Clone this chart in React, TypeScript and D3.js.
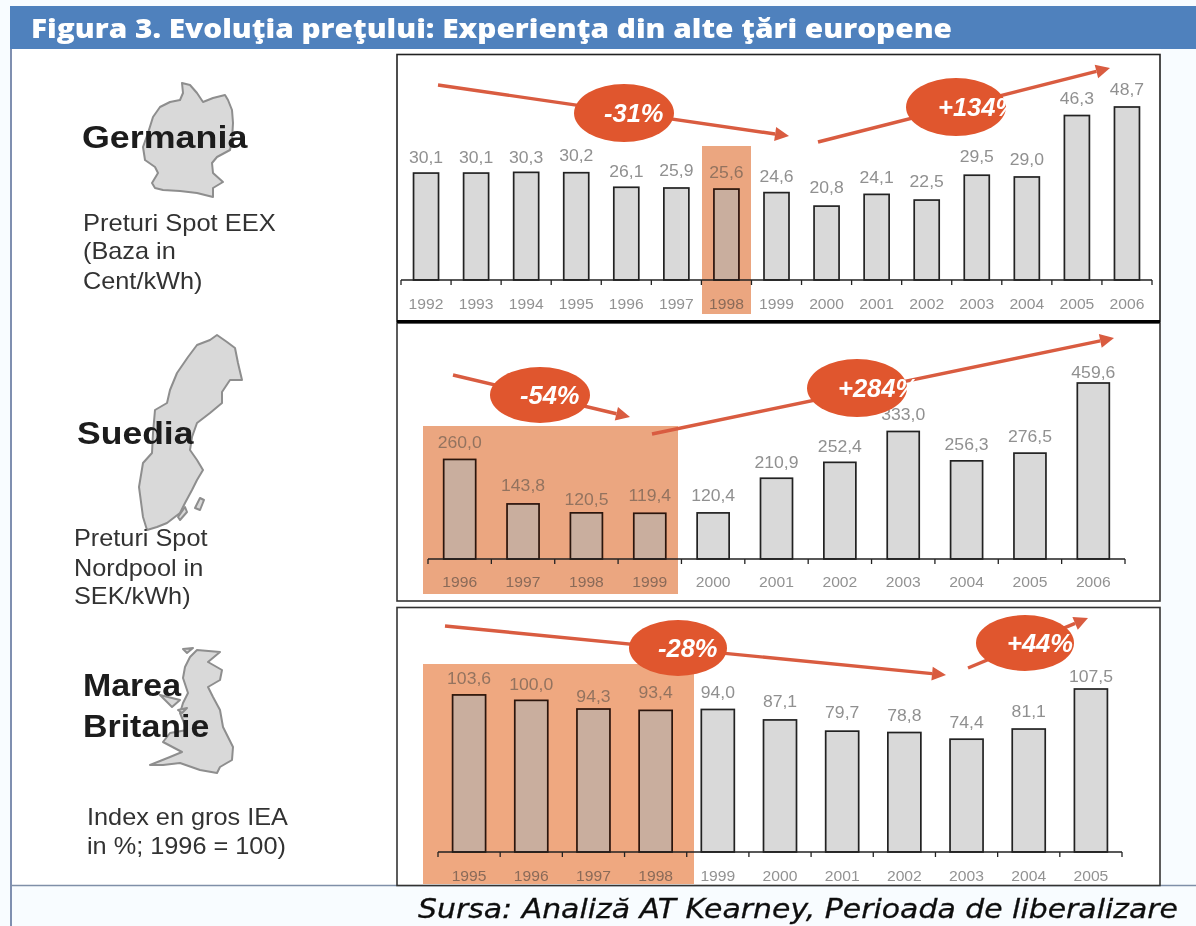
import React from "react";
import * as d3 from "d3";

const yearsDE = ["1992","1993","1994","1995","1996","1997","1998","1999","2000","2001","2002","2003","2004","2005","2006"];
const valuesDE = [30.1,30.1,30.3,30.2,26.1,25.9,25.6,24.6,20.8,24.1,22.5,29.5,29.0,46.3,48.7];
const labelsDE = ["30,1","30,1","30,3","30,2","26,1","25,9","25,6","24,6","20,8","24,1","22,5","29,5","29,0","46,3","48,7"];

const yearsSE = ["1996","1997","1998","1999","2000","2001","2002","2003","2004","2005","2006"];
const valuesSE = [260.0,143.8,120.5,119.4,120.4,210.9,252.4,333.0,256.3,276.5,459.6];
const labelsSE = ["260,0","143,8","120,5","119,4","120,4","210,9","252,4","333,0","256,3","276,5","459,6"];

const yearsUK = ["1995","1996","1997","1998","1999","2000","2001","2002","2003","2004","2005"];
const valuesUK = [103.6,100.0,94.3,93.4,94.0,87.1,79.7,78.8,74.4,81.1,107.5];
const labelsUK = ["103,6","100,0","94,3","93,4","94,0","87,1","79,7","78,8","74,4","81,1","107,5"];

const hlDE = ["1998"];
const hlSE = ["1996","1997","1998","1999"];
const hlUK = ["1995","1996","1997","1998"];

const GERMANY = "M182 83L190 85L197 93L203 102L213 98L225 95L228 100L232 110L233 123L232 140L230 150L217 157L212 163L213 173L223 182L213 188L213 197L197 193L180 191L163 190L155 188L152 183L158 173L155 167L145 160L143 147L148 133L153 117L160 107L170 102L180 100L183 93Z";
const SWEDEN = ["M217 335L227 342L235 348L238 363L242 380L230 380L222 392L222 403L210 413L197 423L192 437L190 450L197 460L203 470L197 480L192 490L185 503L180 513L167 523L157 527L147 530L143 517L139 487L143 463L152 453L153 433L155 410L167 403L170 390L177 373L188 357L197 345L210 340Z",
  "M200 498L204 500L200 510L195 508Z","M185 507L187 512L180 520L178 517Z"];
const UK = ["M197 650L220 652L208 662L222 670L220 680L208 687L213 697L220 710L223 727L233 747L232 760L220 767L217 773L200 770L180 763L163 765L150 765L170 757L182 752L163 742L170 733L187 730L180 713L183 703L188 693L183 678L185 667L190 657Z",
  "M183 649L193 648L187 653Z","M178 710L187 708L182 713Z","M160 695L180 700L172 707Z"];

const ORANGE = "#E0562E";
const LINE = "#D95B40";

function T({x,y,s,fs,fill,anchor="start",bold=false,italic=false,sx=1.1,family="'Liberation Sans', Arial, sans-serif"}:any){
  return <text transform={`translate(${x},${y}) scale(${sx},1)`} fontSize={fs} fill={fill} textAnchor={anchor}
    fontWeight={bold?"bold":"normal"} fontStyle={italic?"italic":"normal"} fontFamily={family}>{s}</text>;
}

function Arrow({x1,y1,x2,y2}:any){
  const a=Math.atan2(y2-y1,x2-x1), L=14, W=7;
  const bx=x2-L*Math.cos(a), by=y2-L*Math.sin(a);
  const nx=-Math.sin(a), ny=Math.cos(a);
  return <g>
    <line x1={x1} y1={y1} x2={bx} y2={by} stroke={LINE} strokeWidth={3.4}/>
    <polygon points={`${x2},${y2} ${bx+nx*W},${by+ny*W} ${bx-nx*W},${by-ny*W}`} fill={LINE}/>
  </g>;
}

function Badge({cx,cy,rx=50,ry=29,s,tx}:any){
  return <g>
    <ellipse cx={cx} cy={cy} rx={rx} ry={ry} fill={ORANGE}/>
    <T x={tx} y={cy+9} s={s} fs={25} sx={1.02} bold italic fill="#fff"/>
  </g>;
}

function Panel({years,heights,labels,hl,x0,x1,base,top,maxV,barW,valueOffset,tickY,labelNudges}:any){
  const x=d3.scaleBand<string>().domain(years).range([x0,x1]);
  const y=d3.scaleLinear().domain([0,maxV]).range([base,top]);
  const edges=[...years.map((d:string)=>x(d) as number),x1];
  return <g>
    {years.map((d:string,i:number)=>{
      const on=hl.includes(d);
      const cx=(x(d) as number)+x.bandwidth()/2;
      return <rect key={d} x={cx-barW/2} y={y(heights[i])} width={barW} height={base-y(heights[i])}
        fill={on?"#C9AE9E":"#D9D9D9"} stroke={on?"#2a120a":"#222"} strokeWidth={1.7}/>;
    })}
    <line x1={x0} x2={x1} y1={base} y2={base} stroke="#222" strokeWidth={1.5}/>
    {edges.map((e:number,i:number)=><line key={i} x1={e} x2={e} y1={base} y2={base+5} stroke="#222" strokeWidth={1.3}/>)}
    {years.map((d:string,i:number)=>{
      const on=hl.includes(d);
      const cx=(x(d) as number)+x.bandwidth()/2;
      return <g key={d}>
        <T x={cx} y={y(heights[i])-valueOffset+(labelNudges?.[i]??0)} s={labels[i]} fs={16} sx={1.1} anchor="middle" fill={on?"#93735F":"#909090"}/>
        <T x={cx} y={tickY} s={d} fs={14} sx={1.12} anchor="middle" fill={on?"#8A6A58":"#929292"}/>
      </g>;
    })}
  </g>;
}

export default function App(){
  const dark="#222";
  const mapProps={fill:"#D9D9D9",stroke:"#8E8E8E",strokeWidth:2,strokeLinejoin:"round" as const};
  return <svg width={1196} height={926} style={{position:"absolute",left:0,top:0,background:"#F8FCFF"}}>
    <defs><filter id="soft" x="0" y="0" width="100%" height="100%"><feGaussianBlur stdDeviation="0.6"/></filter></defs>
    <g filter="url(#soft)">
      <rect x={0} y={0} width={1196} height={926} fill="#F8FCFF"/>
      <rect x={10} y={6} width={1186} height={43} fill="#4F81BD"/>
      <text x={31} y={38} fontSize={27} fontWeight={800} fill="#fff" fontFamily="'Open Sans', sans-serif" textLength={921} lengthAdjust="spacingAndGlyphs">Figura 3. Evoluţia preţului: Experienţa din alte ţări europene</text>
      <rect x={11} y={49} width={1150} height={836} fill="#fff"/>
      <line x1={11} x2={11} y1={49} y2={926} stroke="#7F8FB0" strokeWidth={2}/>
      <line x1={11} x2={1196} y1={885.5} y2={885.5} stroke="#7F8FA8" strokeWidth={1.5}/>

      {/* Frames */}
      <rect x={397} y={54.5} width={763} height={267} fill="#fff" stroke={dark} strokeWidth={1.6}/>
      <rect x={397} y={323} width={763} height={278} fill="#fff" stroke="#333" strokeWidth={1.6}/>
      <rect x={397} y={607.5} width={763} height={278} fill="#fff" stroke="#333" strokeWidth={1.6}/>
      <line x1={397} x2={1160} y1={321.5} y2={321.5} stroke="#000" strokeWidth={3}/>

      {/* Highlights */}
      <rect x={702} y={146} width={49} height={168} fill="#EBA680"/>
      <rect x={423} y={426} width={255} height={168} fill="#EBA680"/>
      <rect x={423} y={664} width={271} height={220} fill="#EFA880"/>

      <Panel years={yearsDE} heights={valuesDE} labels={labelsDE} hl={hlDE} x0={401} x1={1152} base={280} top={107} maxV={48.7} barW={25} valueOffset={9} tickY={309}
        labelNudges={[-1,-1,0,-3,-1,-3,-2,-2,-4,-2,-4,-4,-3,-3,-3]}/>
      <Panel years={yearsSE} heights={valuesSE} labels={labelsSE} hl={hlSE} x0={428} x1={1125} base={559} top={383} maxV={459.6} barW={32} valueOffset={11} tickY={587}
        labelNudges={[0,-2,3,-1,-1,1,1,0,0,0,6]}/>
      <Panel years={yearsUK} heights={valuesUK} labels={labelsUK} hl={hlUK} x0={438} x1={1122} base={852} top={689} maxV={107.5} barW={33} valueOffset={10} tickY={881}
        labelNudges={[-1,0,3,-2,-1,-3,-3,-2,-1,-2,3]}/>

      {/* Arrows & badges */}
      <Arrow x1={438} y1={85} x2={789} y2={136}/>
      <Badge cx={624} cy={113} s="-31%" tx={604}/>
      <Arrow x1={818} y1={142} x2={1110} y2={68}/>
      <Badge cx={956} cy={107} s="+134%" tx={938}/>
      <Arrow x1={453} y1={375} x2={630} y2={417}/>
      <Badge cx={540} cy={395} ry={28} s="-54%" tx={520}/>
      <Arrow x1={652} y1={434} x2={1114} y2={338}/>
      <Badge cx={857} cy={388} s="+284%" tx={838}/>
      <Arrow x1={445} y1={626} x2={946} y2={675}/>
      <Badge cx={678} cy={648} rx={49} ry={28} s="-28%" tx={658}/>
      <Arrow x1={968} y1={668} x2={1088} y2={618}/>
      <Badge cx={1025} cy={643} rx={49} ry={28} s="+44%" tx={1007}/>

      {/* Maps */}
      <path d={GERMANY} {...mapProps}/>
      {SWEDEN.map((d,i)=><path key={i} d={d} {...mapProps}/>)}
      {UK.map((d,i)=><path key={i} d={d} {...mapProps}/>)}

      {/* Country labels */}
      <T x={82} y={148} s="Germania" fs={32} sx={1.12} bold fill="#1a1a1a"/>
      <T x={77} y={444} s="Suedia" fs={32} sx={1.11} bold fill="#1a1a1a"/>
      <T x={83} y={696} s="Marea" fs={32} sx={1.06} bold fill="#1a1a1a"/>
      <T x={83} y={737} s="Britanie" fs={32} sx={1.06} bold fill="#1a1a1a"/>

      <T x={83} y={231} s="Preturi Spot EEX" fs={23} sx={1.11} fill="#333"/>
      <T x={83} y={259} s="(Baza in" fs={23} fill="#333"/>
      <T x={83} y={289} s="Cent/kWh)" fs={23} fill="#333"/>
      <T x={74} y={546} s="Preturi Spot" fs={23} fill="#333"/>
      <T x={74} y={576} s="Nordpool in" fs={23} fill="#333"/>
      <T x={74} y={604} s="SEK/kWh)" fs={23} fill="#333"/>
      <T x={87} y={825} s="Index en gros IEA" fs={23} sx={1.1} fill="#333"/>
      <T x={87} y={854} s="in %; 1996 = 100)" fs={23} sx={1.1} fill="#333"/>

      <text x={418} y={918} fontSize={27} fontStyle="italic" fill="#111" stroke="#111" strokeWidth={0.3} fontFamily="'DejaVu Sans', sans-serif" textLength={760} lengthAdjust="spacingAndGlyphs">Sursa: Analiză AT Kearney, Perioada de liberalizare</text>
    </g>
  </svg>;
}
